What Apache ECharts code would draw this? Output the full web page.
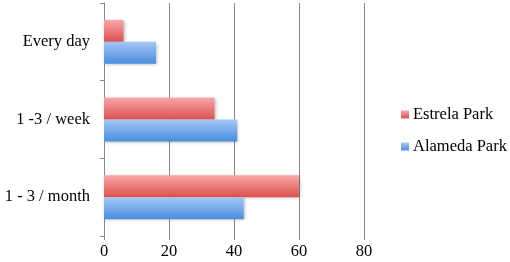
<!DOCTYPE html>
<html>
<head>
<meta charset="utf-8">
<script src="https://cdn.jsdelivr.net/npm/echarts@6/dist/echarts.min.js"></script>
<style>
  html, body { margin: 0; padding: 0; background: #fff; }
  #chart { width: 510px; height: 262px; }
</style>
</head>
<body>
<div id="chart"></div>
<script>
// categories bottom -> top (category axis on y starts at the bottom)
var categories = ['1 - 3 / month', '1 -3 / week', 'Every day'];
var estrela = [60, 34, 6];
var alameda = [43, 41, 16];
var xTicks = [0, 20, 40, 60, 80];

var font = '"Liberation Serif", "DejaVu Serif", serif';

function grad(light, dark) {
  return new echarts.graphic.LinearGradient(0, 0, 0, 1, [
    { offset: 0, color: light },
    { offset: 1, color: dark }
  ]);
}

var barStyle = function (light, dark) {
  return {
    color: grad(light, dark),
    shadowBlur: 3,
    shadowColor: 'rgba(0,0,0,0.25)',
    shadowOffsetX: 1,
    shadowOffsetY: 1
  };
};

var myChart = echarts.init(document.getElementById('chart'));
myChart.setOption({
  animation: false,
  grid: { left: 104, right: 146, top: 3, bottom: 26, containLabel: false },
  legend: {
    orient: 'vertical',
    left: 401,
    top: 106,
    padding: 0,
    itemWidth: 8,
    itemHeight: 8,
    itemGap: 15,
    icon: 'rect',
    textStyle: { fontFamily: font, fontSize: 16.5, color: '#000', padding: [0, 0, 0, -1] },
    data: ['Estrela Park', 'Alameda Park']
  },
  xAxis: {
    type: 'value',
    min: xTicks[0],
    max: xTicks[xTicks.length - 1],
    interval: 20,
    axisLine: { show: false },
    axisTick: { show: true, length: 4, lineStyle: { color: '#888' } },
    splitLine: { show: true, lineStyle: { color: '#888', width: 1 } },
    axisLabel: { fontFamily: font, fontSize: 16.5, color: '#000', margin: 7 }
  },
  yAxis: {
    type: 'category',
    data: categories,
    axisLine: { show: true, lineStyle: { color: '#888' } },
    axisTick: { show: true, length: 4, lineStyle: { color: '#888' } },
    axisLabel: { fontFamily: font, fontSize: 16.5, color: '#000', margin: 14 }
  },
  series: [
    {
      name: 'Estrela Park',
      type: 'bar',
      data: estrela,
      barWidth: 22,
      barGap: '0%',
      itemStyle: barStyle('#f7a8a8', '#df4f4f')
    },
    {
      name: 'Alameda Park',
      type: 'bar',
      data: alameda,
      barWidth: 22,
      barGap: '0%',
      itemStyle: barStyle('#a6c8f6', '#4a8ddf')
    }
  ]
});
</script>
</body>
</html>
